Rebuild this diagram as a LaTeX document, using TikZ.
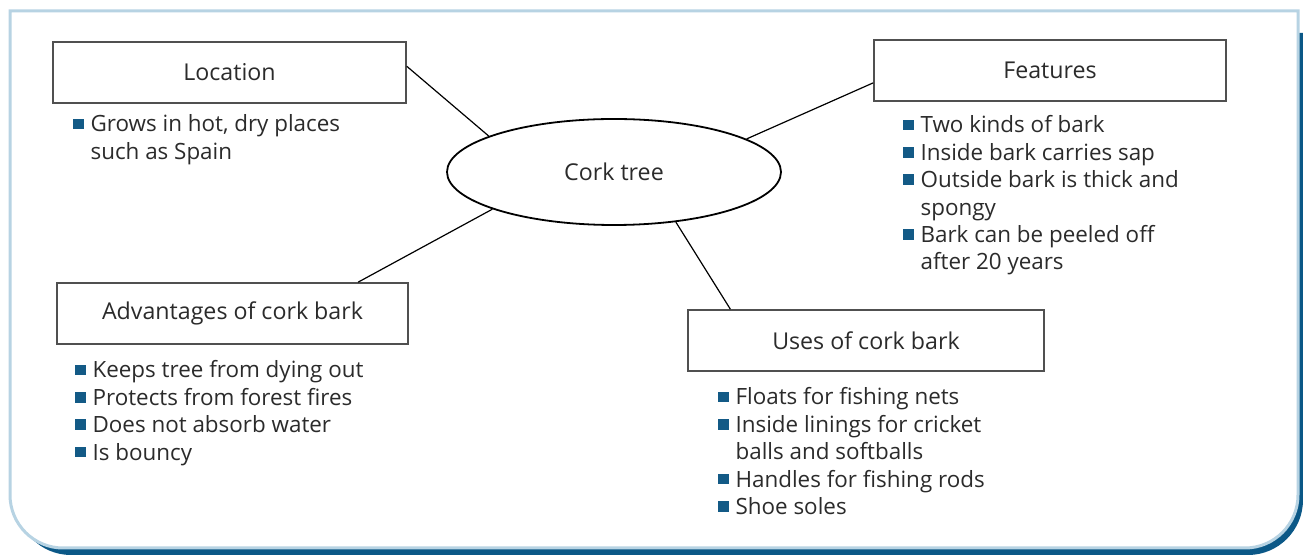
\documentclass[tikz,border=0pt]{standalone}
\usepackage{fontspec}
\setmainfont{Open Sans}
\usetikzlibrary{shapes.geometric}

\definecolor{inkgray}{HTML}{2B2B2B}
\definecolor{boxgray}{HTML}{505050}
\definecolor{bulblue}{HTML}{135A86}
\definecolor{rimblue}{HTML}{B7D3E3}
\definecolor{shadeblue}{HTML}{0B5887}

\newcommand{\sqbul}{\textcolor{bulblue}{\rule[1.35pt]{5.3pt}{5.3pt}}\hspace{3.3pt}}
\newcommand{\sqgap}{\hphantom{\sqbul}}
\newcommand{\blines}[1]{\parbox[t]{200pt}{\raggedright #1}}

\begin{document}
\begin{tikzpicture}[x=0.5pt,y=-0.5pt,
  topic/.style={draw=boxgray, line width=0.8pt, minimum height=30.5pt,
    minimum width=176pt, inner sep=0pt, text=inkgray,
    font=\fontsize{11.6}{13}\selectfont},
  blist/.style={anchor=base west, inner sep=0pt, text=inkgray,
    font=\fontsize{11.2}{13.7}\selectfont},
  link/.style={black, line width=0.6pt}]
  \useasboundingbox (0,0) rectangle (1303,555);

  % panel with shadow
  \fill[shadeblue] (16,33) -- (1303,33) -- (1303,500)
    arc[start angle=0, end angle=90, radius=55] -- (71,555)
    arc[start angle=90, end angle=180, radius=55] -- cycle;
  \filldraw[fill=white, draw=rimblue, line width=1.5pt] (10,11) -- (1298,11) -- (1298,495)
    arc[start angle=0, end angle=90, radius=53] -- (63,548)
    arc[start angle=90, end angle=180, radius=53] -- cycle;

  \node[ellipse, draw=black, line width=0.9pt, minimum width=167pt, minimum height=53pt,
    inner sep=0pt, text=inkgray, font=\fontsize{11.6}{13}\selectfont] (tree) at (614,172) {Cork tree};

  \node[topic, minimum width=176.5pt] (loc) at (229.5,72.5) {Location};
  \node[topic] (feat) at (1050,70.5) {Features};
  \node[topic, minimum width=175.5pt] (adv) at (232.5,313.5) {Advantages of cork bark};
  \node[topic, minimum width=178pt] (uses) at (866,340.5) {Uses of cork bark};

  \draw[link] (loc.2) -- (tree.164);
  \draw[link] (tree.14) -- (feat.184);
  \draw[link] (tree.197) -- (adv.14.5);
  \draw[link] (tree.321.5) -- (uses.167);

  \node[blist] (locl) at (73,132) {\blines{\sqbul Grows in hot, dry places\\
    \sqgap such as Spain}};
  \node[blist] (featl) at (903,133) {\blines{\sqbul Two kinds of bark\\
    \sqbul Inside bark carries sap\\
    \sqbul Outside bark is thick and\\
    \sqgap spongy\\
    \sqbul Bark can be peeled off\\
    \sqgap after 20 years}};
  \node[blist] (advl) at (75,378) {\blines{\sqbul Keeps tree from dying out\\
    \sqbul Protects from forest fires\\
    \sqbul Does not absorb water\\
    \sqbul Is bouncy}};
  \node[blist] (usesl) at (718,405) {\blines{\sqbul Floats for fishing nets\\
    \sqbul Inside linings for cricket\\
    \sqgap balls and softballs\\
    \sqbul Handles for fishing rods\\
    \sqbul Shoe soles}};
\end{tikzpicture}
\end{document}
